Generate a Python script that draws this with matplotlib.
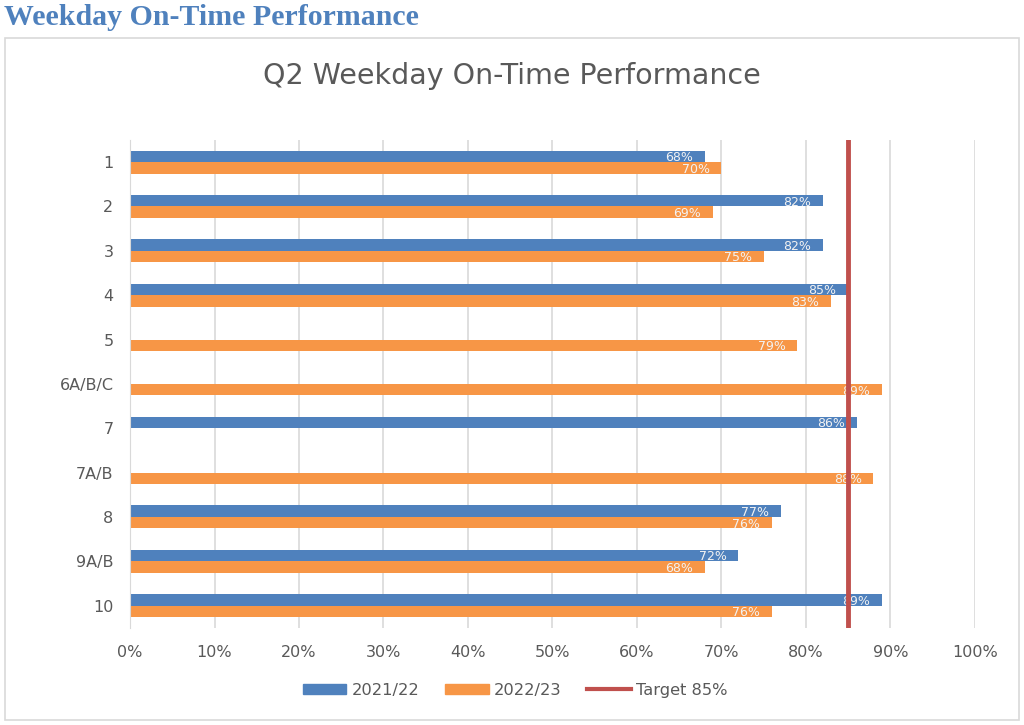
import numpy as np
import matplotlib.pyplot as plt
from matplotlib.patches import Rectangle
from matplotlib.lines import Line2D

# data (nan = no bar for that year)
routes = ["1", "2", "3", "4", "5", "6A/B/C", "7", "7A/B", "8", "9A/B", "10"]
fy2122 = [68, 82, 82, 85, np.nan, np.nan, 86, np.nan, 77, 72, 89]
fy2223 = [70, 69, 75, 83, 79, 89, np.nan, 88, 76, 68, 76]
target = 85

BLUE = "#4F81BD"
ORANGE = "#F79646"
RED = "#C0504D"
GREY = "#595959"

fig = plt.figure(figsize=(10.24, 7.25), dpi=100)

# page heading + chart frame
fig.text(0.004, 0.976, "Weekday On-Time Performance", family="Liberation Serif",
         fontweight="bold", fontsize=21.5, color="#4F81BD", va="center", ha="left")
fig.patches.append(Rectangle((0.005, 0.007), 0.99, 0.94, transform=fig.transFigure,
                             fill=False, edgecolor="#D9D9D9", linewidth=1.2))

ax = fig.add_axes([0.127, 0.134, 0.825, 0.673])

y = np.arange(len(routes))
h = 0.26
b1 = ax.barh(y - h / 2, fy2122, height=h, color=BLUE, label="2021/22")
b2 = ax.barh(y + h / 2, fy2223, height=h, color=ORANGE, label="2022/23")

for yy, vals in ((y - h / 2, fy2122), (y + h / 2, fy2223)):
    for yi, v in zip(yy, vals):
        if np.isnan(v):
            continue
        ax.annotate(f"{v:.0f}%", (v, yi), xytext=(-8.5, -1), textcoords="offset points",
                    ha="right", va="center", fontsize=9, color="#F2F2F2")

ax.axvline(target, color=RED, linewidth=3.5, zorder=3)

ax.set_xlim(0, 100)
ax.set_ylim(len(routes) - 0.5, -0.5)
ax.set_yticks(y)
ax.set_yticklabels(routes)
ax.set_xticks(np.arange(0, 101, 10))
ax.set_xticklabels([f"{t}%" for t in range(0, 101, 10)])
ax.tick_params(axis="both", length=0, labelsize=11.5, colors=GREY, pad=12)
ax.grid(axis="x", color="#D9D9D9", linewidth=1.2)
ax.set_axisbelow(True)
for s in ("top", "right", "bottom"):
    ax.spines[s].set_visible(False)
ax.spines["left"].set_color("#D9D9D9")

fig.text(0.5, 0.895, "Q2 Weekday On-Time Performance", ha="center", va="center",
         fontsize=20.5, color=GREY)

handles = [Rectangle((0, 0), 1, 1, color=BLUE), Rectangle((0, 0), 1, 1, color=ORANGE),
           Line2D([0], [0], color=RED, linewidth=3)]
fig.legend(handles, ["2021/22", "2022/23", "Target 85%"], loc="center",
           bbox_to_anchor=(0.503, 0.048), ncol=3, frameon=False, fontsize=11.7,
           labelcolor=GREY, handlelength=2.7, handleheight=0.65, columnspacing=1.6,
           handletextpad=0.3)

fig.savefig("out.png", dpi=100)
